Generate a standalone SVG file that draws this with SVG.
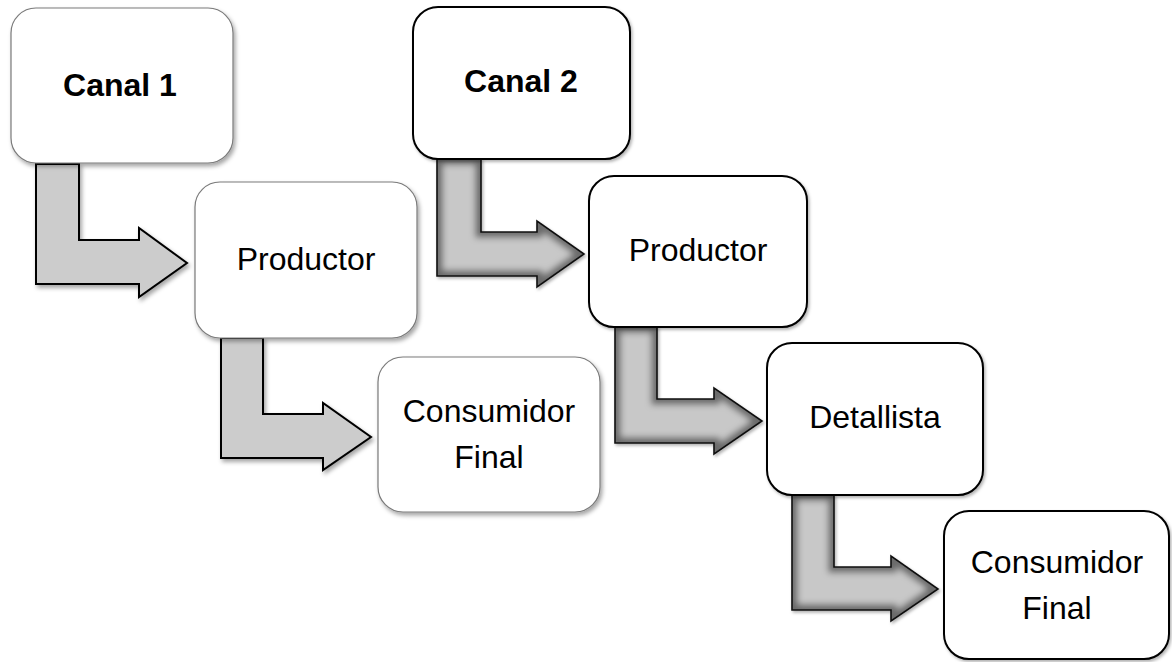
<svg xmlns="http://www.w3.org/2000/svg" width="1172" height="662" viewBox="0 0 1172 662">
  <style>
    .lbl { font-family: "Liberation Sans", Arial, sans-serif; font-size: 32px; fill: #000; text-anchor: middle; }
    .bold { font-weight: bold; }
    .boxA { fill: #fff; stroke: #7a7a7a; stroke-width: 1.2; filter: url(#shadow); }
    .boxB { fill: #fff; stroke: #000; stroke-width: 2; filter: url(#shadowB); }
    .flat { fill: #cccccc; stroke: #000; stroke-width: 2; stroke-linejoin: miter; filter: url(#shadow); }
    .edge { fill: none; stroke: #111; stroke-width: 1.6; stroke-linejoin: miter; }
    .bevel { fill: #c8c8c8; stroke: #6a6a6a; stroke-width: 12; filter: url(#soft); }
  </style>
  <defs>
    <filter id="shadow" x="-10%" y="-10%" width="125%" height="125%">
      <feDropShadow dx="2" dy="3" stdDeviation="2" flood-color="#000" flood-opacity="0.35"/>
    </filter>
    <filter id="shadowB" x="-10%" y="-10%" width="125%" height="125%">
      <feDropShadow dx="1.5" dy="2" stdDeviation="1.5" flood-color="#000" flood-opacity="0.3"/>
    </filter>
    <filter id="soft" x="-10%" y="-10%" width="120%" height="120%">
      <feGaussianBlur stdDeviation="3"/>
    </filter>
    <clipPath id="c21"><path id="a21" d="M437,159 L481,159 L481,232 L537,232 L537,221 L584,254 L537,287 L537,276 L437,276 Z"/></clipPath>
    <clipPath id="c22"><path id="a22" d="M615,327 L657,327 L657,399 L714,399 L714,388 L762,421 L714,454 L714,443 L615,443 Z"/></clipPath>
    <clipPath id="c23"><path id="a23" d="M792,495 L834,495 L834,567 L891,567 L891,556 L938,589 L891,621 L891,610 L792,610 Z"/></clipPath>
  </defs>

  <!-- connectors: bent block arrows -->
  <g id="connectors">
    <path class="flat" d="M36,164 L79,164 L79,240 L139,240 L139,228 L187,263 L139,297 L139,284 L36,284 Z"/>
    <path class="flat" d="M221,338 L263,338 L263,414 L323,414 L323,403 L371,437 L323,470 L323,458 L221,458 Z"/>

    <g filter="url(#shadowB)">
      <g clip-path="url(#c21)"><use href="#a21" class="bevel"/></g>
      <use href="#a21" class="edge"/>
    </g>
    <g filter="url(#shadowB)">
      <g clip-path="url(#c22)"><use href="#a22" class="bevel"/></g>
      <use href="#a22" class="edge"/>
    </g>
    <g filter="url(#shadowB)">
      <g clip-path="url(#c23)"><use href="#a23" class="bevel"/></g>
      <use href="#a23" class="edge"/>
    </g>
  </g>

  <!-- channel 1 -->
  <g id="canal1">
    <rect class="boxA" x="11" y="8" width="222" height="155" rx="25"/>
    <text class="lbl bold" x="120" y="96">Canal 1</text>
  </g>
  <g id="productor1">
    <rect class="boxA" x="195" y="182" width="222" height="156" rx="25"/>
    <text class="lbl" x="306" y="270">Productor</text>
  </g>
  <g id="consumidor1">
    <rect class="boxA" x="378" y="357" width="222" height="155" rx="25"/>
    <text class="lbl" x="489" y="422">Consumidor</text>
    <text class="lbl" x="489" y="468">Final</text>
  </g>

  <!-- channel 2 -->
  <g id="canal2">
    <rect class="boxB" x="413" y="7" width="217" height="152" rx="25"/>
    <text class="lbl bold" x="521" y="92">Canal 2</text>
  </g>
  <g id="productor2">
    <rect class="boxB" x="589" y="176" width="218" height="151" rx="25"/>
    <text class="lbl" x="698" y="261">Productor</text>
  </g>
  <g id="detallista">
    <rect class="boxB" x="767" y="343" width="216" height="152" rx="25"/>
    <text class="lbl" x="875" y="428">Detallista</text>
  </g>
  <g id="consumidor2">
    <rect class="boxB" x="944" y="511" width="225" height="148" rx="25"/>
    <text class="lbl" x="1057" y="573">Consumidor</text>
    <text class="lbl" x="1057" y="619">Final</text>
  </g>
</svg>
